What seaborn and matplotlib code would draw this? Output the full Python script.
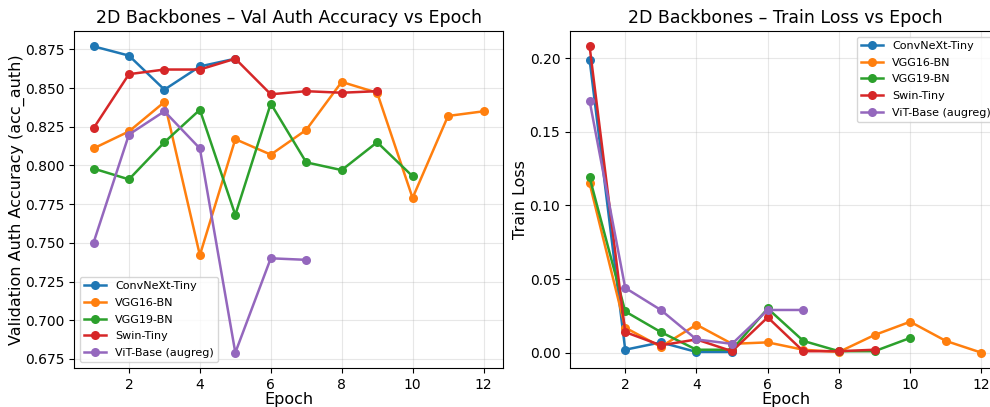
import matplotlib
matplotlib.use("Agg")
import matplotlib.pyplot as plt
import pandas as pd
import seaborn as sns

models = ["ConvNeXt-Tiny", "VGG16-BN", "VGG19-BN", "Swin-Tiny", "ViT-Base (augreg)"]

# validation auth accuracy per epoch
acc_convnext = [0.877, 0.871, 0.849, 0.864, 0.869]
acc_vgg16 = [0.811, 0.822, 0.841, 0.742, 0.817, 0.807, 0.823, 0.854, 0.847, 0.779, 0.832, 0.835]
acc_vgg19 = [0.798, 0.791, 0.815, 0.836, 0.768, 0.840, 0.802, 0.797, 0.815, 0.793]
acc_swin = [0.824, 0.859, 0.862, 0.862, 0.869, 0.846, 0.848, 0.847, 0.848]
acc_vit = [0.750, 0.820, 0.835, 0.811, 0.679, 0.740, 0.739]

# train loss per epoch
loss_convnext = [0.199, 0.002, 0.007, 0.0005, 0.0005]
loss_vgg16 = [0.115, 0.017, 0.004, 0.019, 0.006, 0.007, 0.002, 0.0005, 0.012, 0.021, 0.008, 0.000]
loss_vgg19 = [0.119, 0.028, 0.014, 0.002, 0.002, 0.030, 0.008, 0.001, 0.001, 0.010]
loss_swin = [0.208, 0.014, 0.005, 0.009, 0.001, 0.024, 0.001, 0.001, 0.002]
loss_vit = [0.171, 0.044, 0.029, 0.009, 0.006, 0.029, 0.029]


def to_long(series_list, col):
    rows = []
    for name, vals in zip(models, series_list):
        for i, v in enumerate(vals):
            rows.append({"model": name, "epoch": i + 1, col: v})
    return pd.DataFrame(rows)


acc_df = to_long([acc_convnext, acc_vgg16, acc_vgg19, acc_swin, acc_vit], "acc")
loss_df = to_long([loss_convnext, loss_vgg16, loss_vgg19, loss_swin, loss_vit], "loss")

plt.rcParams["font.family"] = ["DejaVu Sans"]
palette = sns.color_palette("tab10", 5)

W, H = 990, 407
fig = plt.figure(figsize=(W / 100, H / 100), dpi=100)
# the original figure is cut off on the right, so the second axes runs past the edge
ax1 = fig.add_axes([74 / W, (H - 368) / H, 429 / W, 337 / H])
ax2 = fig.add_axes([570 / W, (H - 368) / H, 431 / W, 337 / H])

line_kw = dict(hue="model", hue_order=models, palette=palette, marker="o",
               markersize=6.5, markeredgewidth=0, linewidth=1.8)
leg_kw = dict(fontsize=8, labelspacing=0.6)

sns.lineplot(data=acc_df, x="epoch", y="acc", ax=ax1, **line_kw)
ax1.set_title("2D Backbones \u2013 Val Auth Accuracy vs Epoch", fontsize=12.5)
ax1.set_ylabel("Validation Auth Accuracy (acc_auth)", fontsize=11.5)
ax1.yaxis.set_label_coords(-0.115, 0.5)
ax1.legend(loc="lower left", **leg_kw)

sns.lineplot(data=loss_df, x="epoch", y="loss", ax=ax2, **line_kw)
ax2.set_title("2D Backbones \u2013 Train Loss vs Epoch", fontsize=12.5)
ax2.set_ylabel("Train Loss", fontsize=11.5)
ax2.yaxis.set_label_coords(-0.098, 0.5)
ax2.legend(loc="upper right", **leg_kw)

for ax in (ax1, ax2):
    ax.set_xlabel("Epoch", fontsize=11.5)
    ax.xaxis.set_label_coords(0.5, -0.072)
    ax.set_xticks([2, 4, 6, 8, 10, 12])
    ax.set_xlim(0.45, 12.55)
    ax.grid(True, alpha=0.3)
    ax.tick_params(labelsize=10)

fig.savefig("out.png", dpi=100)
